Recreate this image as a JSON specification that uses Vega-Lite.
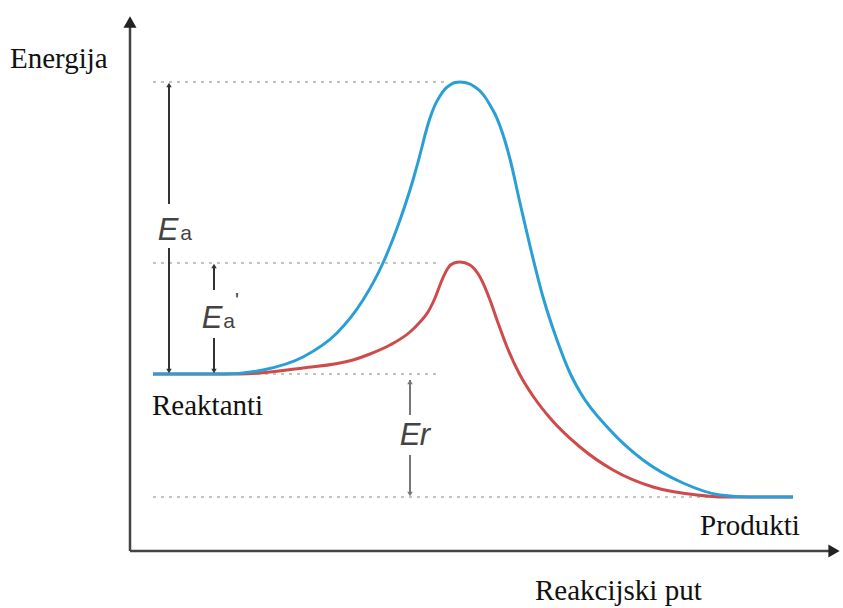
{
  "$schema": "https://vega.github.io/schema/vega-lite/v6.json",
  "width": 843,
  "height": 608,
  "autosize": {"type": "fit", "contains": "padding"},
  "padding": 0,
  "background": "white",
  "config": {"view": {"stroke": null}},
  "datasets": {
    "blue": [
      {"x": 153, "y": 234}, {"x": 225, "y": 234}, {"x": 263, "y": 238}, {"x": 303, "y": 251},
      {"x": 337, "y": 275}, {"x": 363, "y": 308}, {"x": 383, "y": 345}, {"x": 400, "y": 388},
      {"x": 413, "y": 428}, {"x": 422, "y": 461}, {"x": 425, "y": 473}, {"x": 430, "y": 490},
      {"x": 435, "y": 503}, {"x": 440, "y": 512}, {"x": 445, "y": 519}, {"x": 450, "y": 523},
      {"x": 455, "y": 525.5}, {"x": 460, "y": 526}, {"x": 465, "y": 525.5}, {"x": 470, "y": 524},
      {"x": 475, "y": 521}, {"x": 480, "y": 517}, {"x": 485, "y": 511}, {"x": 490, "y": 503},
      {"x": 495, "y": 494}, {"x": 500, "y": 482}, {"x": 505, "y": 467}, {"x": 510, "y": 449},
      {"x": 520, "y": 405}, {"x": 530, "y": 362}, {"x": 543, "y": 311}, {"x": 557, "y": 268},
      {"x": 570, "y": 235}, {"x": 580, "y": 216}, {"x": 610, "y": 178}, {"x": 643, "y": 148},
      {"x": 683, "y": 125}, {"x": 720, "y": 113}, {"x": 750, "y": 111}, {"x": 793, "y": 111}
    ],
    "red": [
      {"x": 153, "y": 234}, {"x": 240, "y": 234}, {"x": 303, "y": 240}, {"x": 353, "y": 248},
      {"x": 370, "y": 254}, {"x": 390, "y": 263}, {"x": 410, "y": 276}, {"x": 420, "y": 286},
      {"x": 428, "y": 296}, {"x": 435, "y": 310}, {"x": 442, "y": 328}, {"x": 448, "y": 340},
      {"x": 454, "y": 345}, {"x": 460, "y": 346}, {"x": 470, "y": 343}, {"x": 480, "y": 331},
      {"x": 490, "y": 308}, {"x": 497, "y": 288}, {"x": 507, "y": 261}, {"x": 520, "y": 233},
      {"x": 533, "y": 212}, {"x": 550, "y": 190}, {"x": 580, "y": 161}, {"x": 613, "y": 138},
      {"x": 653, "y": 121}, {"x": 697, "y": 113}, {"x": 723, "y": 111}, {"x": 793, "y": 111}
    ]
  },
  "encoding": {
    "x": {"field": "x", "type": "quantitative", "scale": {"domain": [0, 843], "nice": false, "zero": false}, "axis": null},
    "y": {"field": "y", "type": "quantitative", "scale": {"domain": [0, 608], "nice": false, "zero": false}, "axis": null}
  },
  "layer": [
    {
      "data": {"values": [
        {"x": 153, "x2": 445, "y": 526},
        {"x": 153, "x2": 440, "y": 345},
        {"x": 153, "x2": 440, "y": 234},
        {"x": 153, "x2": 790, "y": 111}
      ]},
      "mark": {"type": "rule", "color": "#b0b0b0", "strokeWidth": 1.5, "strokeDash": [3, 5]},
      "encoding": {
        "x2": {"field": "x2"}
      }
    },
    {
      "data": {"values": [
        {"x": 130, "x2": 130, "y": 57, "y2": 588},
        {"x": 130, "x2": 830, "y": 57, "y2": 57}
      ]},
      "mark": {"type": "rule", "color": "#444444", "strokeWidth": 2.5},
      "encoding": {
        "x2": {"field": "x2"},
        "y2": {"field": "y2"}
      }
    },
    {
      "data": {"values": [{"x": 130, "y": 586}]},
      "mark": {"type": "point", "shape": "triangle-up", "filled": true, "size": 170, "color": "#222222", "opacity": 1},
      "encoding": {}
    },
    {
      "data": {"values": [{"x": 834, "y": 57}]},
      "mark": {"type": "point", "shape": "triangle-right", "filled": true, "size": 170, "color": "#222222", "opacity": 1},
      "encoding": {}
    },
    {
      "data": {"name": "red"},
      "mark": {"type": "line", "interpolate": "monotone", "color": "#cf4b4b", "strokeWidth": 3},
      "encoding": {}
    },
    {
      "data": {"name": "blue"},
      "mark": {"type": "line", "interpolate": "monotone", "color": "#2a9fd6", "strokeWidth": 3},
      "encoding": {}
    },
    {
      "data": {"values": [
        {"arrow": "Ea", "x": 169, "y": 523, "y2": 404},
        {"arrow": "Ea", "x": 169, "y": 360, "y2": 237},
        {"arrow": "Ea'", "x": 214, "y": 342, "y2": 318},
        {"arrow": "Ea'", "x": 214, "y": 270, "y2": 237},
        {"arrow": "Er", "x": 410, "y": 228, "y2": 193},
        {"arrow": "Er", "x": 410, "y": 153, "y2": 114}
      ]},
      "mark": {"type": "rule", "strokeWidth": 2},
      "encoding": {
        "y2": {"field": "y2"},
        "color": {"field": "arrow", "type": "nominal", "scale": {"domain": ["Ea", "Ea'", "Er"], "range": ["#333333", "#333333", "#777777"]}, "legend": null}
      }
    },
    {
      "data": {"values": [
        {"arrow": "Ea", "x": 169, "y": 523},
        {"arrow": "Ea'", "x": 214, "y": 342},
        {"arrow": "Er", "x": 410, "y": 226}
      ]},
      "mark": {"type": "point", "shape": "triangle-up", "filled": true, "size": 30, "opacity": 1},
      "encoding": {
        "color": {"field": "arrow", "type": "nominal", "legend": null}
      }
    },
    {
      "data": {"values": [
        {"arrow": "Ea", "x": 169, "y": 237},
        {"arrow": "Ea'", "x": 214, "y": 237},
        {"arrow": "Er", "x": 410, "y": 114}
      ]},
      "mark": {"type": "point", "shape": "triangle-down", "filled": true, "size": 30, "opacity": 1},
      "encoding": {
        "color": {"field": "arrow", "type": "nominal", "legend": null}
      }
    },
    {
      "data": {"values": [
        {"label": "E", "x": 168, "y": 368},
        {"label": "E", "x": 212, "y": 280},
        {"label": "E", "x": 410, "y": 163},
        {"label": "r", "x": 425, "y": 163}
      ]},
      "mark": {"type": "text", "font": "Liberation Sans", "fontStyle": "italic", "fontSize": 31, "color": "#444444", "align": "center", "baseline": "alphabetic"},
      "encoding": {
        "text": {"field": "label"}
      }
    },
    {
      "data": {"values": [
        {"label": "a", "x": 186, "y": 368},
        {"label": "a", "x": 229, "y": 280},
        {"label": "'", "x": 237, "y": 301}
      ]},
      "mark": {"type": "text", "font": "Liberation Sans", "fontSize": 21, "color": "#444444", "align": "center", "baseline": "alphabetic"},
      "encoding": {
        "text": {"field": "label"}
      }
    },
    {
      "data": {"values": [
        {"label": "Energija", "x": 10, "y": 540},
        {"label": "Reaktanti", "x": 152, "y": 193},
        {"label": "Produkti", "x": 700, "y": 73},
        {"label": "Reakcijski put", "x": 535, "y": 8}
      ]},
      "mark": {"type": "text", "font": "Liberation Serif", "fontSize": 29, "color": "#111111", "align": "left", "baseline": "alphabetic"},
      "encoding": {
        "text": {"field": "label"}
      }
    }
  ]
}
